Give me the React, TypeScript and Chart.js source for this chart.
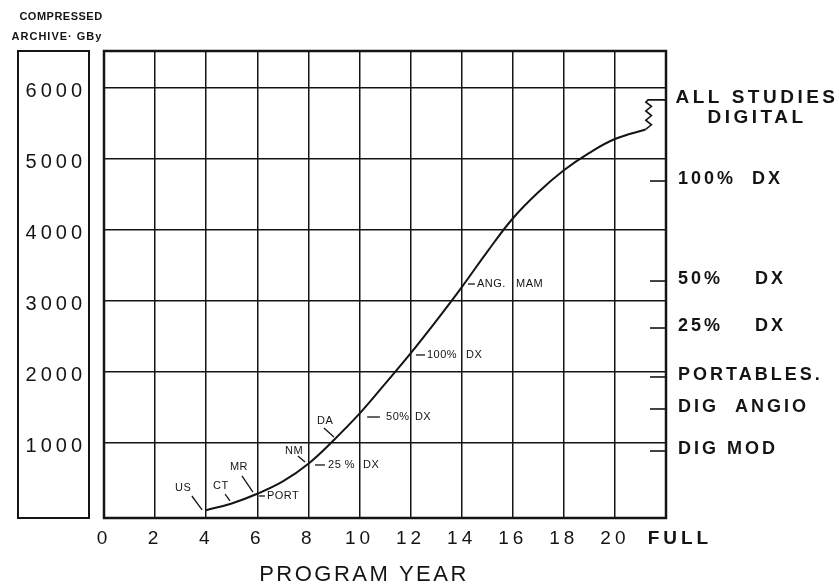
import { useEffect, useRef } from 'react';
import { Chart, registerables } from 'chart.js';

Chart.register(...registerables);

// ---- data ----
const yearX = [4, 5, 6, 7, 8, 9, 10, 11, 12, 13, 14, 15, 16, 17, 18, 19, 20, 21.2];
const archiveGB = [50, 145, 282, 455, 705, 1040, 1410, 1830, 2260, 2715, 3190, 3690, 4160, 4530, 4840, 5085, 5280, 5415];

const breakX = [21.2, 21.43, 21.21, 21.43, 21.21, 21.43, 21.21, 21.3, 22];
const breakY = [5415, 5480, 5545, 5610, 5675, 5740, 5800, 5831, 5831];

const xTicks = [0, 2, 4, 6, 8, 10, 12, 14, 16, 18, 20, 22];
const xTickLabels = ['0', '2', '4', '6', '8', '10', '12', '14', '16', '18', '20', '   FULL'];
const yTicks = [1000, 2000, 3000, 4000, 5000, 6000];
const yTickLabels = ['1000', '2000', '3000', '4000', '5000', '6000'];

const sideLabels = ['100%  DX', '50%    DX', '25%    DX', 'PORTABLES.', 'DIG  ANGIO', 'DIG MOD'];
const sideValues = [4688, 3279, 2617, 1927, 1476, 884];
const topLabelLines = ['ALL STUDIES', 'DIGITAL'];
const topLabelValue = 5831;

const noteText = ['US', 'CT', 'MR', 'PORT', 'NM', '25 %', 'DX', 'DA', '50%', 'DX', '100%', 'DX', 'ANG.', 'MAM'];
const noteX = [2.78, 4.27, 4.93, 6.38, 7.09, 8.77, 10.14, 8.34, 11.04, 12.17, 12.64, 14.17, 14.6, 16.13];
const noteY = [363, 391, 659, 250, 884, 687, 687, 1307, 1363, 1363, 2237, 2237, 3237, 3237];

const leaderX1 = [3.44, 4.74, 5.4, 6.07, 7.59, 8.26, 8.61, 10.3, 12.21, 14.25];
const leaderY1 = [250, 278, 532, 250, 814, 687, 1208, 1363, 2237, 3237];
const leaderX2 = [3.84, 4.93, 5.83, 6.3, 7.87, 8.65, 9.0, 10.8, 12.57, 14.52];
const leaderY2 = [53, 180, 306, 250, 729, 687, 1081, 1363, 2237, 3237];

const yTitleLines = ['COMPRESSED', 'ARCHIVE\u00b7 GBy'];
const xTitle = 'PROGRAM YEAR';

const INK = '#141414';

const decorPlugin = {
  id: 'decor',
  beforeDraw(chart: any) {
    const ctx = chart.ctx;
    ctx.save();
    ctx.fillStyle = '#ffffff';
    ctx.fillRect(0, 0, chart.width, chart.height);
    ctx.restore();
    ctx.letterSpacing = '4px';
  },
  afterDraw(chart: any) {
    const ctx = chart.ctx;
    const a = chart.chartArea;
    const x = chart.scales.x;
    const y = chart.scales.y;
    ctx.save();
    ctx.letterSpacing = '0px';
    ctx.strokeStyle = INK;
    ctx.fillStyle = INK;

    // plot frame
    ctx.lineWidth = 2.5;
    ctx.strokeRect(a.left, a.top, a.right - a.left, a.bottom - a.top);

    // left value box
    ctx.lineWidth = 2;
    ctx.strokeRect(18, a.top, 71, a.bottom - a.top);

    // inward side ticks
    ctx.lineWidth = 1.6;
    sideValues.forEach((v) => {
      const py = y.getPixelForValue(v);
      ctx.beginPath();
      ctx.moveTo(a.right - 16, py);
      ctx.lineTo(a.right, py);
      ctx.stroke();
    });

    // leaders
    ctx.lineWidth = 1.3;
    leaderX1.forEach((_, i) => {
      ctx.beginPath();
      ctx.moveTo(x.getPixelForValue(leaderX1[i]), y.getPixelForValue(leaderY1[i]));
      ctx.lineTo(x.getPixelForValue(leaderX2[i]), y.getPixelForValue(leaderY2[i]));
      ctx.stroke();
    });

    // notes
    ctx.font = '11px "Liberation Sans", Arial, sans-serif';
    ctx.letterSpacing = '0.5px';
    ctx.textAlign = 'left';
    ctx.textBaseline = 'middle';
    noteText.forEach((t, i) => {
      ctx.fillText(t, x.getPixelForValue(noteX[i]), y.getPixelForValue(noteY[i]));
    });

    // side labels
    ctx.font = 'bold 18px "Liberation Sans", Arial, sans-serif';
    ctx.letterSpacing = '3px';
    ctx.textBaseline = 'alphabetic';
    sideLabels.forEach((t, i) => {
      ctx.fillText(t, a.right + 12, y.getPixelForValue(sideValues[i]) + 3);
    });
    ctx.font = 'bold 19px "Liberation Sans", Arial, sans-serif';
    ctx.letterSpacing = '3.5px';
    ctx.textAlign = 'center';
    const ty = y.getPixelForValue(topLabelValue) + 3;
    topLabelLines.forEach((t, i) => {
      ctx.fillText(t, a.right + 91, ty + i * 20);
    });

    // y title (top-left)
    ctx.font = 'bold 11px "Liberation Sans", Arial, sans-serif';
    ctx.letterSpacing = '0.5px';
    ctx.textBaseline = 'middle';
    ctx.fillText(yTitleLines[0], 61, 17);
    ctx.letterSpacing = '1px';
    ctx.fillText(yTitleLines[1], 57, 37);

    // x title
    ctx.font = '300 22px "Liberation Sans", Arial, sans-serif';
    ctx.letterSpacing = '2.5px';
    ctx.fillText(xTitle, 364, 575);

    ctx.restore();
  },
};

export default function App() {
  const ref = useRef<HTMLCanvasElement | null>(null);

  useEffect(() => {
    if (!ref.current) return;
    const chart = new Chart(ref.current, {
      type: 'line',
      data: {
        datasets: [
          {
            data: yearX.map((v, i) => ({ x: v, y: archiveGB[i] })),
            borderColor: INK,
            borderWidth: 2,
            pointRadius: 0,
            tension: 0.4,
            fill: false,
          },
          {
            data: breakX.map((v, i) => ({ x: v, y: breakY[i] })),
            borderColor: INK,
            borderWidth: 1.6,
            pointRadius: 0,
            tension: 0,
            fill: false,
          },
        ],
      },
      options: {
        animation: false,
        responsive: true,
        maintainAspectRatio: false,
        events: [],
        layout: { padding: { left: 25, top: 51, right: 173, bottom: 0 } },
        plugins: { legend: { display: false }, tooltip: { enabled: false } },
        scales: {
          x: {
            type: 'linear',
            min: 0,
            max: 22,
            afterBuildTicks: (s: any) => {
              s.ticks = xTicks.map((v) => ({ value: v }));
            },
            afterFit: (s: any) => {
              s.height = 70;
            },
            grid: { color: INK, lineWidth: 1.5, drawTicks: false },
            border: { display: false },
            ticks: {
              autoSkip: false,
              maxRotation: 0,
              padding: 9,
              color: INK,
              callback: (_v: any, i: number) => xTickLabels[i],
              font: (ctx: any) => ({
                family: '"Liberation Sans Narrow", "Liberation Sans", sans-serif',
                size: 19,
                weight: ctx.index === xTicks.length - 1 ? 'bold' : 'normal',
              }),
            },
          },
          y: {
            type: 'linear',
            min: -60,
            max: 6520,
            afterBuildTicks: (s: any) => {
              s.ticks = yTicks.map((v) => ({ value: v }));
            },
            afterFit: (s: any) => {
              s.width = 79;
            },
            grid: { color: INK, lineWidth: 1.5, drawTicks: false },
            border: { display: false },
            ticks: {
              autoSkip: false,
              crossAlign: 'near',
              padding: 18,
              labelOffset: 4,
              color: INK,
              callback: (_v: any, i: number) => yTickLabels[i],
              font: { family: '"Liberation Sans", Arial, sans-serif', size: 20 },
            },
          },
        },
      },
      plugins: [decorPlugin],
    } as any);
    return () => chart.destroy();
  }, []);

  return (
    <div style={{ position: 'absolute', left: 0, top: 0, width: 839, height: 588, background: '#fff' }}>
      <canvas ref={ref} />
    </div>
  );
}
